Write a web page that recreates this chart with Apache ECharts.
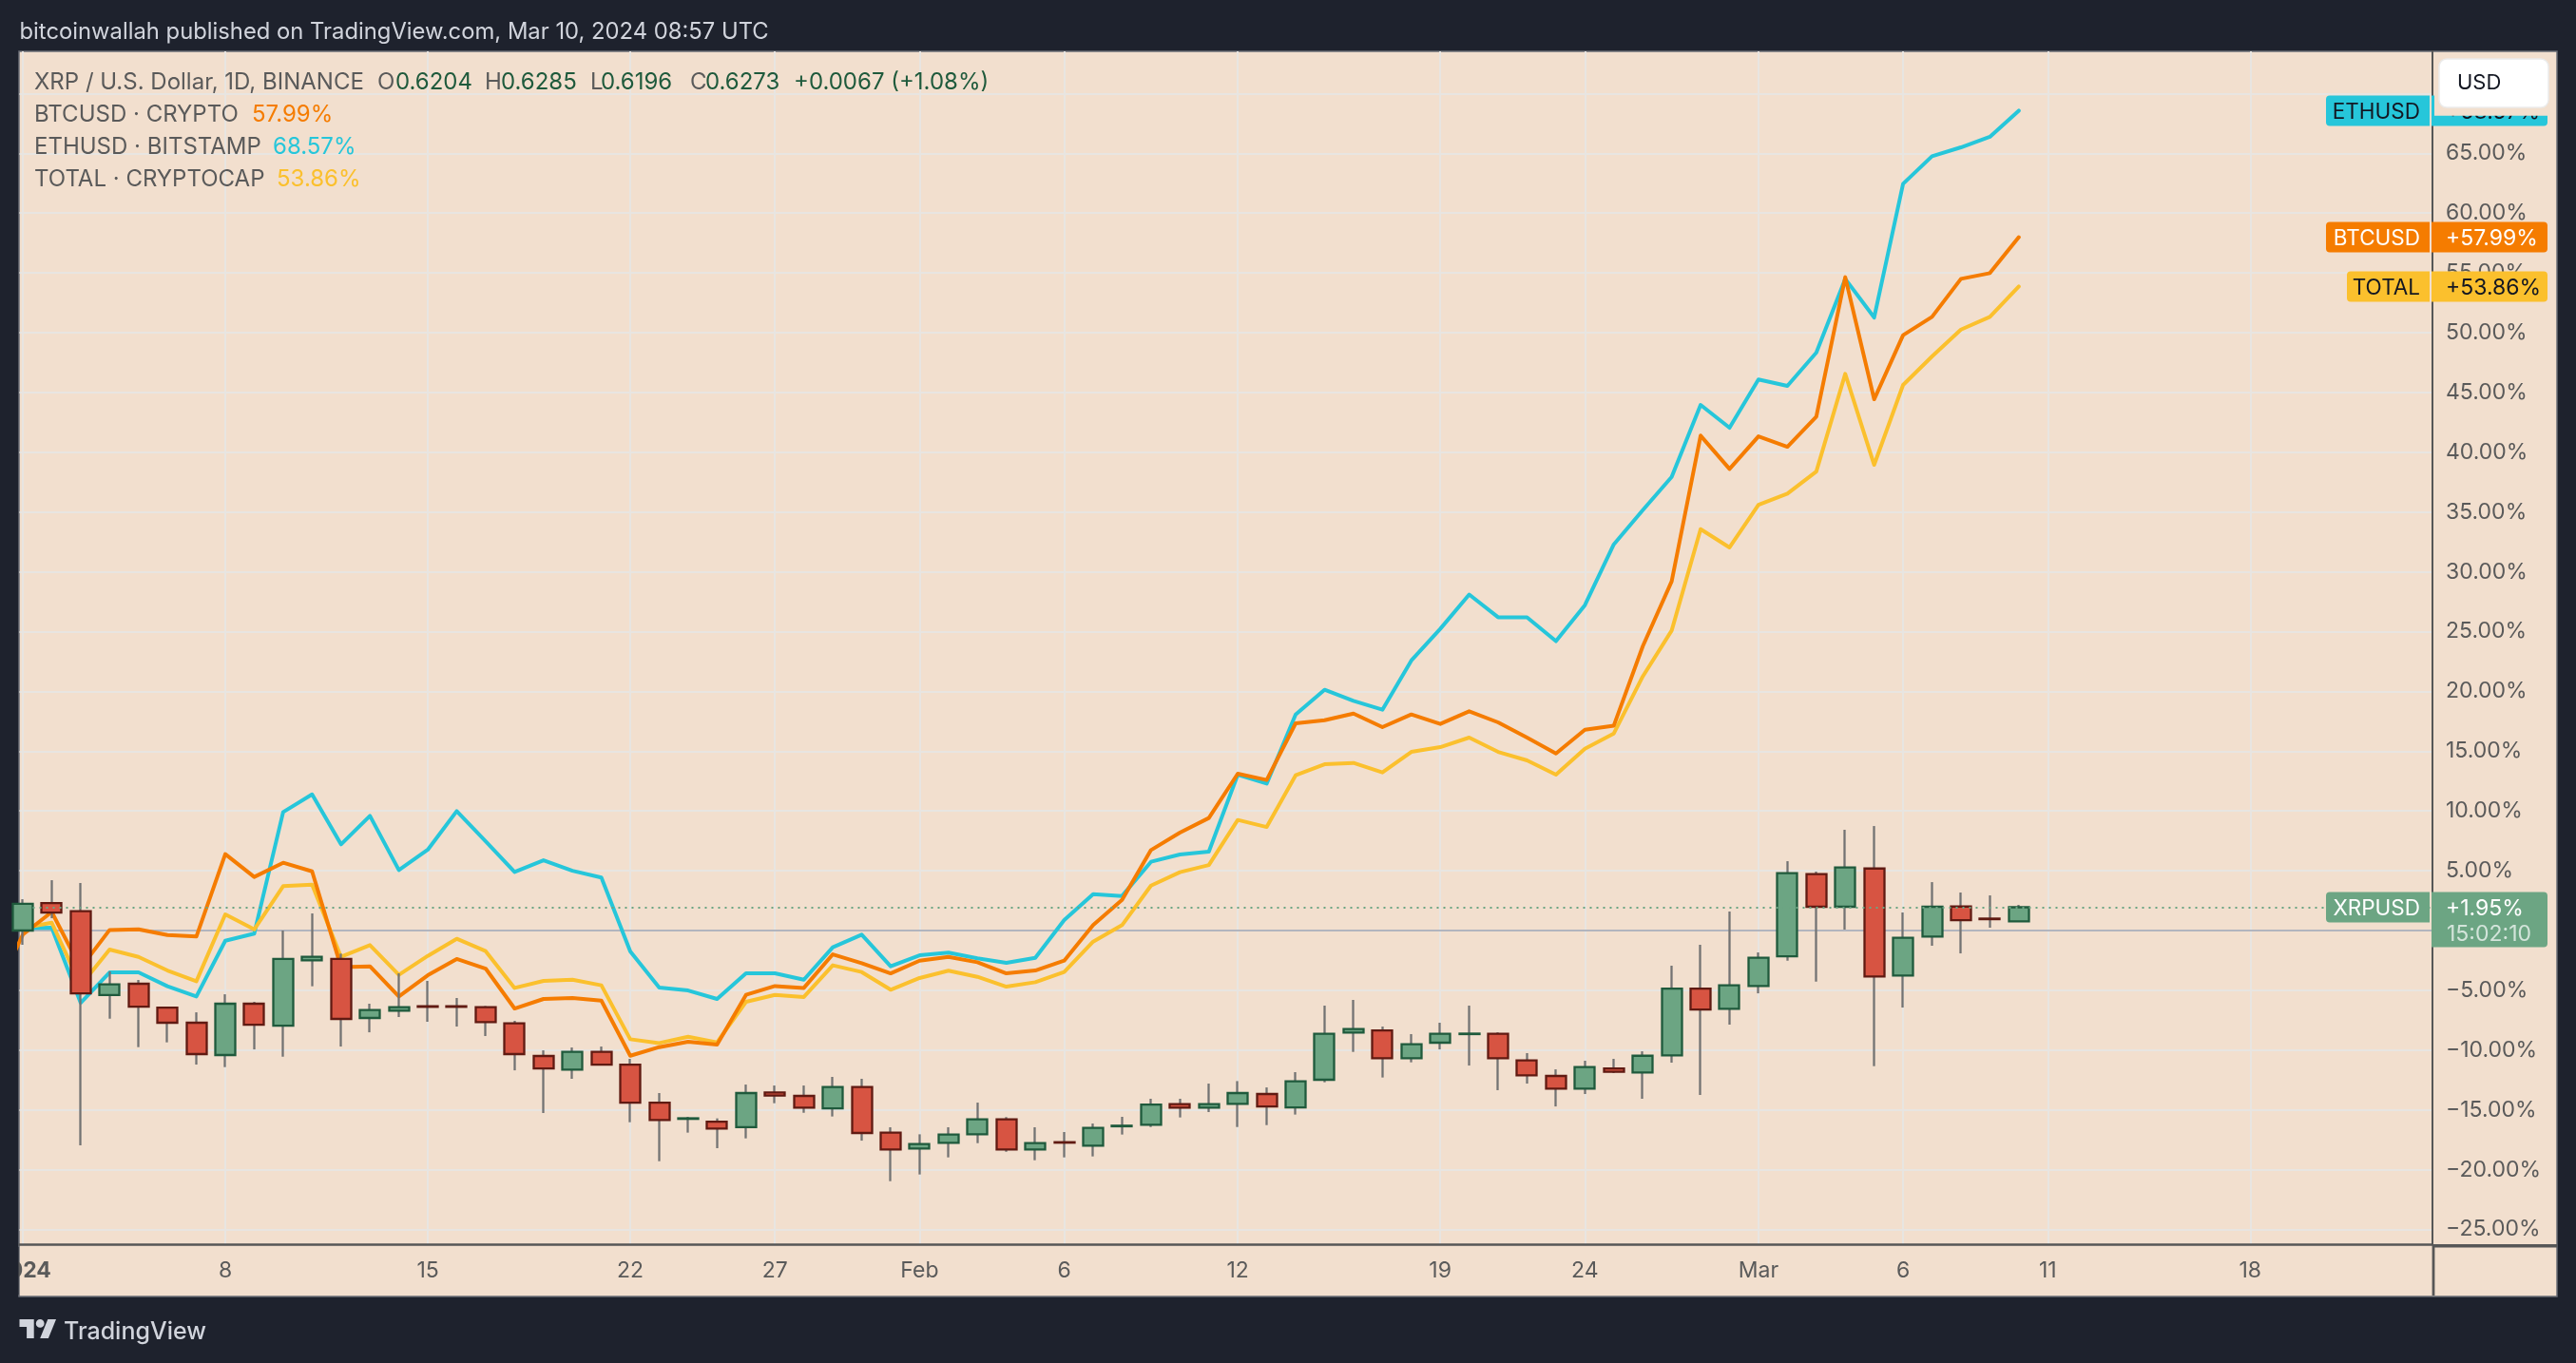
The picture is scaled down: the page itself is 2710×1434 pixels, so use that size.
<!DOCTYPE html>
<html>
<head>
<meta charset="utf-8">
<title>XRP vs BTC, ETH, TOTAL</title>
<script src="https://cdn.jsdelivr.net/npm/echarts@6/dist/echarts.min.js"></script>
<style>
html,body{margin:0;padding:0;background:#1e222d;}
#chart{width:2710px;height:1434px;}
</style>
</head>
<body>
<div id="chart"></div>
<script>
// day 0 = Jan 1 2024, all values are % change
var xrpOpen = [0,2.3,1.62,-5.4,-4.45,-6.44,-7.71,-10.41,-6.12,-7.95,-2.49,-2.38,-7.31,-6.7,-6.33,-6.33,-6.41,-7.76,-10.49,-11.63,-10.15,-11.21,-14.39,-15.75,-15.98,-16.45,-13.54,-13.83,-14.87,-13.09,-16.9,-18.23,-17.75,-17.04,-15.79,-18.31,-17.7,-17.99,-16.37,-16.24,-14.52,-14.81,-14.49,-13.67,-14.79,-12.48,-8.53,-8.35,-10.68,-9.38,-8.66,-8.64,-10.86,-12.16,-13.22,-11.53,-11.87,-10.44,-4.85,-6.54,-4.64,-2.15,4.72,1.99,5.19,-3.76,-0.5,2.01,1.0,0.77];
var xrpClose = [2.23,1.51,-5.25,-4.5,-6.36,-7.71,-10.33,-6.12,-7.87,-2.38,-2.2,-7.39,-6.65,-6.41,-6.38,-6.38,-7.66,-10.33,-11.53,-10.15,-11.21,-14.39,-15.84,-15.7,-16.56,-13.59,-13.8,-14.81,-13.09,-16.93,-18.31,-17.86,-17.06,-15.79,-18.31,-17.78,-17.74,-16.51,-16.32,-14.55,-14.81,-14.52,-13.59,-14.71,-12.61,-8.64,-8.24,-10.68,-9.51,-8.64,-8.62,-10.68,-12.11,-13.22,-11.42,-11.82,-10.47,-4.85,-6.6,-4.58,-2.28,4.8,1.99,5.27,-3.84,-0.61,1.99,0.87,0.95,1.95];
var xrpLow = [-1.19,1.03,-17.96,-7.37,-9.75,-9.35,-11.21,-11.42,-9.94,-10.55,-4.66,-9.7,-8.51,-7.23,-7.63,-8.03,-8.82,-11.69,-15.26,-12.4,-11.21,-16.03,-19.29,-16.9,-18.2,-17.38,-14.44,-15.24,-15.55,-17.57,-20.96,-20.4,-18.97,-17.78,-18.5,-19.21,-18.97,-18.89,-17.06,-16.43,-15.63,-15.18,-16.43,-16.27,-15.39,-12.69,-10.15,-12.29,-11.02,-9.94,-11.29,-13.35,-12.8,-14.71,-13.67,-11.92,-14.07,-11.05,-13.75,-7.87,-5.25,-2.52,-4.27,0.08,-11.34,-6.44,-1.27,-1.91,0.24,0.72];
var xrpHigh = [2.62,4.21,3.97,-3.42,-4.13,-6.44,-6.84,-5.33,-5.96,0,1.43,-1.93,-6.12,-3.58,-4.21,-5.64,-6.31,-7.55,-10.02,-9.78,-9.7,-10.73,-13.59,-15.58,-15.71,-12.88,-12.96,-12.96,-12.24,-12.4,-16.45,-17.04,-16.45,-14.39,-15.6,-16.45,-16.85,-16.14,-15.58,-14.07,-14.07,-12.8,-12.59,-13.12,-11.84,-6.28,-5.8,-8.03,-8.66,-7.71,-6.28,-8.51,-10.25,-11.61,-10.89,-10.73,-10.1,-2.94,-1.19,1.59,-1.83,5.8,4.93,8.43,8.74,1.51,4.05,3.18,2.94,2.15];

// line arrays start one day earlier (Dec 31), the chart cuts that day off
var ethValues = [0.1,0.2,0.24,-6.04,-3.5,-3.5,-4.66,-5.51,-0.85,-0.26,9.91,11.39,7.21,9.59,5.06,6.76,9.99,7.47,4.9,5.88,5.0,4.43,-1.75,-4.77,-5.01,-5.72,-3.58,-3.58,-4.11,-1.4,-0.34,-2.99,-2.07,-1.85,-2.33,-2.7,-2.28,0.87,3.05,2.89,5.75,6.36,6.6,13.04,12.29,18.07,20.14,19.21,18.47,22.58,25.23,28.1,26.2,26.2,24.2,27.21,32.3,35.16,37.94,43.96,42.05,46.08,45.55,48.33,54.5,51.27,62.45,64.76,65.5,66.38,68.57];
var btcValues = [-5.5,-0.34,1.55,-3.13,0.05,0.1,-0.37,-0.5,6.39,4.48,5.67,4.95,-3.05,-2.99,-5.51,-3.74,-2.38,-3.18,-6.52,-5.72,-5.64,-5.86,-10.47,-9.75,-9.3,-9.54,-5.38,-4.64,-4.8,-1.99,-2.73,-3.58,-2.52,-2.2,-2.65,-3.58,-3.34,-2.52,0.45,2.57,6.73,8.19,9.41,13.12,12.59,17.33,17.59,18.15,17.01,18.07,17.28,18.34,17.41,16.14,14.81,16.8,17.14,23.77,29.2,41.39,38.6,41.33,40.46,42.98,54.64,44.43,49.79,51.32,54.5,54.98,57.99];
var totalValues = [-0.3,0.2,0.66,-4.58,-1.59,-2.2,-3.34,-4.24,1.35,0.1,3.71,3.84,-2.2,-1.22,-3.71,-2.12,-0.69,-1.72,-4.8,-4.21,-4.11,-4.58,-9.09,-9.41,-8.88,-9.35,-5.96,-5.38,-5.56,-2.91,-3.47,-4.95,-3.97,-3.36,-3.87,-4.69,-4.32,-3.47,-0.93,0.45,3.76,4.88,5.48,9.25,8.66,12.98,13.91,14.02,13.22,14.94,15.34,16.14,14.94,14.23,13.04,15.2,16.48,21.25,25.09,33.57,32.04,35.61,36.54,38.39,46.55,38.95,45.63,48.01,50.26,51.32,53.86];

var tickDays = [0,7,14,21,26,31,36,42,49,54,60,65,70,77];
var tickNames = ['2024','8','15','22','27','Feb','6','12','19','24','Mar','6','11','18'];
var percentTicks = [-25,-20,-15,-10,-5,0,5,10,15,20,25,30,35,40,45,50,55,60,65,70];

var lastXrp = 1.95;
var lastEth = 68.57;
var lastBtc = 57.99;
var lastTotal = 53.86;

var FONT = 'Inter, "Noto Sans", sans-serif';
var PAPER = '#f2dfce';
var DARK = '#1e222d';
var TEXT = '#5a5a5a';
var LINE = '#575757';
var ETH_COLOR = '#26c6da';
var BTC_COLOR = '#f57c00';
var TOTAL_COLOR = '#fbc02d';
var UP_COLOR = '#6ca583';
var UP_BORDER = '#1f5a3c';
var DOWN_COLOR = '#d75442';
var DOWN_BORDER = '#601a12';
var WICK = '#737373';
var GRID_LINE = '#e8e5e1';
var DARK_GREEN = '#1f5a3c';

function wickData(){
	return xrpOpen.map(function(o, i){
		return [i, o, xrpClose[i], xrpLow[i], xrpHigh[i]];
	});
}
// body only, the wick stays in the grey series under it
function bodyData(){
	return xrpOpen.map(function(o, i){
		var c = xrpClose[i];
		return [i, o, c, Math.min(o, c), Math.max(o, c)];
	});
}
function lineData(values){
	return values.map(function(v, i){
		return [i - 1, v];
	});
}
function makeLine(name, values, color, extra){
	var s = {
		name: name,
		type: 'line',
		data: lineData(values),
		showSymbol: false,
		symbol: 'none',
		z: 2,
		lineStyle: {color: color, width: 4, join: 'round', cap: 'round'},
		animation: false
	};
	if(extra) s.markLine = extra;
	return s;
}
function text(x, y, str, color, size, align, weight, z){
	return {
		type: 'text',
		z: z || 60,
		x: x,
		y: y + 1.5,
		style: {
			text: str,
			fill: color,
			font: (weight || 400) + ' ' + size + 'px ' + FONT,
			textAlign: align || 'left',
			textVerticalAlign: 'middle'
		}
	};
}
function rect(x, y, w, h, color, r, z, stroke){
	return {
		type: 'rect',
		z: z,
		shape: {x: x, y: y, width: w, height: h, r: r || 0},
		style: {fill: color, stroke: stroke || null, lineWidth: stroke ? 1.5 : 0}
	};
}

var chart = echarts.init(document.getElementById('chart'), null, {renderer: 'canvas'});

chart.setOption({
	backgroundColor: DARK,
	animation: false,
	// outerBounds off: the first date label hangs over the left edge on purpose
	grid: {left: 20.5, right: 151, top: 54, bottom: 125, containLabel: false, outerBoundsMode: 'none'},
	xAxis: {
		type: 'value',
		min: -0.115,
		max: 83.3,
		axisLine: {onZero: false, lineStyle: {color: LINE, width: 2.5}},
		axisTick: {show: false, customValues: tickDays},
		splitLine: {show: true, lineStyle: {color: GRID_LINE, width: 2}},
		axisLabel: {
			customValues: tickDays,
			margin: 17,
			color: TEXT,
			fontFamily: FONT,
			fontSize: 23,
			formatter: function(v){
				var n = tickNames[tickDays.indexOf(v)];
				return v === 0 ? '{b|' + n + '}' : n;
			},
			rich: {b: {fontWeight: 700, fontSize: 23, color: TEXT, fontFamily: FONT}}
		}
	},
	yAxis: {
		type: 'value',
		position: 'right',
		min: -26.23,
		max: 73.53,
		axisLine: {show: true, onZero: false, lineStyle: {color: LINE, width: 2}},
		axisTick: {show: false, customValues: percentTicks},
		splitLine: {show: true, lineStyle: {color: GRID_LINE, width: 2}},
		axisLabel: {
			customValues: percentTicks,
			margin: 14,
			color: TEXT,
			fontFamily: FONT,
			fontSize: 23,
			formatter: function(v){
				return (v < 0 ? '\u2212' : '') + Math.abs(v).toFixed(2) + '%';
			}
		}
	},
	series: [
		makeLine('ETHUSD', ethValues, ETH_COLOR, {
			silent: true,
			symbol: 'none',
			z: 1,
			label: {show: false},
			lineStyle: {color: '#b2b5be', width: 2.2, type: 'solid'},
			data: [{yAxis: 0}]
		}),
		makeLine('TOTAL', totalValues, TOTAL_COLOR),
		makeLine('BTCUSD', btcValues, BTC_COLOR),
		{
			name: 'XRP wick',
			type: 'candlestick',
			z: 3,
			barWidth: 1,
			encode: {x: 0, y: [1, 2, 3, 4]},
			data: wickData(),
			itemStyle: {color: WICK, color0: WICK, borderColor: WICK, borderColor0: WICK, borderWidth: 2.3}
		},
		{
			name: 'XRPUSD',
			type: 'candlestick',
			z: 4,
			barWidth: 21.5,
			encode: {x: 0, y: [1, 2, 3, 4]},
			data: bodyData(),
			itemStyle: {color: UP_COLOR, color0: DOWN_COLOR, borderColor: UP_BORDER, borderColor0: DOWN_BORDER, borderWidth: 2.3},
			markLine: {
				silent: true,
				symbol: 'none',
				z: 6,
				label: {show: false},
				lineStyle: {color: UP_COLOR, width: 2, type: [2, 5]},
				data: [{yAxis: lastXrp}]
			}
		}
	]
});

function yOf(value){
	return chart.convertToPixel({yAxisIndex: 0}, value);
}
// coloured tags on the price scale, they follow the axis
function priceTag(name, value, nameLeft, color, textColor){
	var y = yOf(value);
	return [
		rect(nameLeft, y - 16, 2556 - nameLeft, 32, color, [4, 0, 0, 4], 40),
		rect(2558, y - 16, 122, 32, color, [0, 4, 4, 0], 40),
		text(2546, y, name, textColor, 22.5, 'right'),
		text(2573, y, '+' + value.toFixed(2) + '%', textColor, 23)
	];
}

var yXrp = yOf(lastXrp);
var overlay = [
	// paper behind plot and scales
	rect(20, 54, 2670, 1310, PAPER, 0, -10, '#6a6d75'),
	// left strip cuts the first date label like the plot edge does
	rect(0, 1312, 19.5, 50, DARK, 0, 30),
	rect(2560, 1309, 130, 3.5, LINE, 0, 30),
	rect(2558.6, 1309, 2.8, 54, LINE, 0, 30),

	text(20.5, 32, 'bitcoinwallah published on TradingView.com, Mar 10, 2024 08:57 UTC', '#d1d4dc', 23.8),

	text(36, 85, 'XRP / U.S. Dollar, 1D, BINANCE', TEXT, 24),
	text(397, 85, 'O', TEXT, 24),
	text(416, 85, '0.6204', DARK_GREEN, 24),
	text(510, 85, 'H', TEXT, 24),
	text(527, 85, '0.6285', DARK_GREEN, 24),
	text(621, 85, 'L', TEXT, 24),
	text(632, 85, '0.6196', DARK_GREEN, 24),
	text(726, 85, 'C', TEXT, 24),
	text(742, 85, '0.6273', DARK_GREEN, 24),
	text(835, 85, '+0.0067 (+1.08%)', DARK_GREEN, 24),

	text(36, 119, 'BTCUSD \u00b7 CRYPTO', TEXT, 24),
	text(265, 119, lastBtc.toFixed(2) + '%', BTC_COLOR, 24),
	text(36, 153, 'ETHUSD \u00b7 BITSTAMP', TEXT, 24),
	text(287, 153, lastEth.toFixed(2) + '%', ETH_COLOR, 24),
	text(36, 187, 'TOTAL \u00b7 CRYPTOCAP', TEXT, 24),
	text(291, 187, lastTotal.toFixed(2) + '%', TOTAL_COLOR, 24),

	// XRP tag is taller, it also holds the countdown
	rect(2447, yXrp - 16, 109, 32, UP_COLOR, [4, 0, 0, 4], 40),
	rect(2558, yXrp - 16, 122, 58, UP_COLOR, [0, 4, 4, 0], 40),
	text(2546, yXrp, 'XRPUSD', '#ffffff', 22.5, 'right'),
	text(2573, yXrp, '+' + lastXrp.toFixed(2) + '%', '#ffffff', 23),
	text(2574, yXrp + 27, '15:02:10', '#d3e4da', 23),

	// logo
	{type: 'polygon', z: 60, shape: {points: [[20.5, 1388], [35.7, 1388], [35.7, 1408], [28.1, 1408], [28.1, 1396], [20.5, 1396]]}, style: {fill: '#d1d4dc'}},
	{type: 'polygon', z: 60, shape: {points: [[50.3, 1388], [59, 1388], [50.9, 1408], [42.2, 1408]]}, style: {fill: '#d1d4dc'}},
	{type: 'circle', z: 60, shape: {cx: 42.2, cy: 1392.4, r: 4.4}, style: {fill: '#d1d4dc'}},
	text(67, 1400, 'TradingView', '#d1d4dc', 25, 'left', 500)
];
overlay = overlay.concat(
	priceTag('ETHUSD', lastEth, 2447, ETH_COLOR, '#131722'),
	priceTag('BTCUSD', lastBtc, 2447, BTC_COLOR, '#ffffff'),
	priceTag('TOTAL', lastTotal, 2469, TOTAL_COLOR, '#131722')
);
// currency button hides the top of the ETH tag, with a paper margin around it
overlay.push(rect(2561, 56, 127, 65.7, PAPER, 0, 61));
overlay.push(rect(2566, 62, 115, 51, '#ffffff', 8, 62, '#ebebeb'));
overlay.push(text(2585, 85.5, 'USD', '#131722', 22, 'left', 400, 63));

chart.setOption({graphic: {elements: overlay}});
</script>
</body>
</html>
